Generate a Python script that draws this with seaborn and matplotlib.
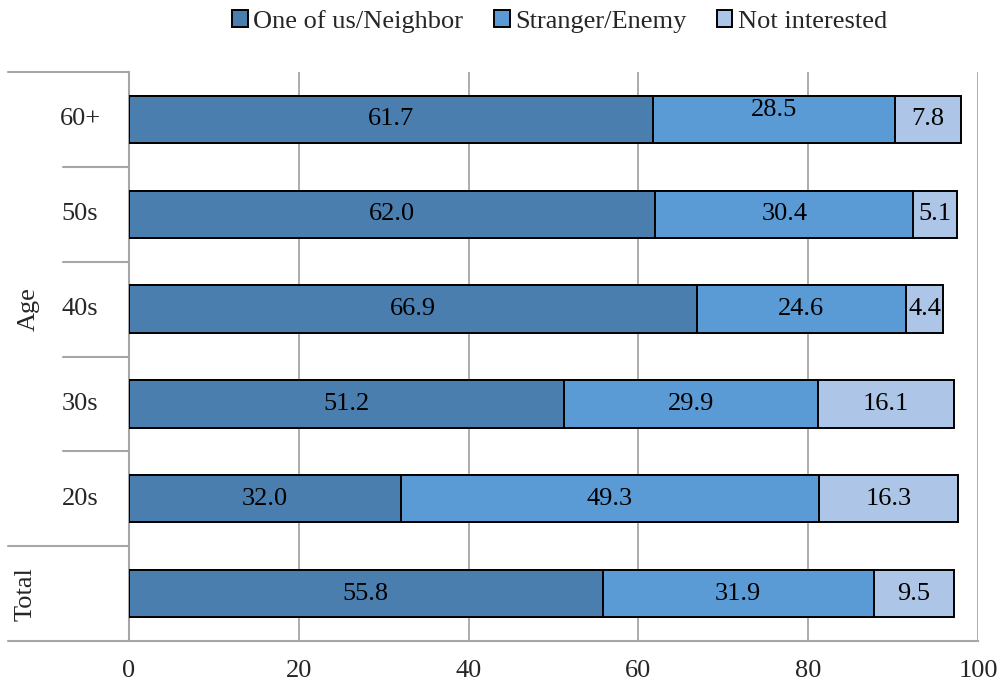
import matplotlib
matplotlib.use("Agg")
import matplotlib.pyplot as plt
import matplotlib.transforms as mtransforms
from matplotlib.patches import Patch
import numpy as np
import pandas as pd
import seaborn as sns

# Survey shares (%) by age group
groups = ["60+", "50s", "40s", "30s", "20s", "Total"]
neighbor = [61.7, 62.0, 66.9, 51.2, 32.0, 55.8]
stranger = [28.5, 30.4, 24.6, 29.9, 49.3, 31.9]
not_interested = [7.8, 5.1, 4.4, 16.1, 16.3, 9.5]
series_names = ["One of us/Neighbor", "Stranger/Enemy", "Not interested"]
x_ticks = [0, 20, 40, 60, 80, 100]

colors = ["#4A7EAF", "#5B9BD5", "#ADC5E6"]
grid_col = "#A6A6A6"

sns.set_style("white")
plt.rcParams["font.family"] = ["Liberation Serif", "DejaVu Serif"]
FS = 19

df = pd.DataFrame({
    "group": groups,
    "neighbor": neighbor,
    "stranger": stranger,
    "not_interested": not_interested,
})
df["c1"] = df["neighbor"]
df["c2"] = df["c1"] + df["stranger"]
df["c3"] = df["c2"] + df["not_interested"]

fig = plt.figure(figsize=(10.03, 6.85), dpi=100)
ax = fig.add_axes([129 / 1003, 1 - 641 / 685, (978 - 129) / 1003, (641 - 72) / 685])

# Stacked bars: draw cumulative totals back to front
for col, c in zip(["c3", "c2", "c1"], colors[::-1]):
    sns.barplot(data=df, x=col, y="group", order=groups, orient="h",
                color=c, edgecolor="black", linewidth=1.4, width=0.5,
                saturation=1, ax=ax, zorder=3)

ax.set_xlim(0, 100)
ax.set_ylim(len(groups) - 0.5, -0.5)
ax.set_xticks(x_ticks)
ax.set_xticklabels([str(t) for t in x_ticks], fontsize=FS)
ax.tick_params(axis="x", direction="out", length=6, width=1.3, color=grid_col, pad=8)
ax.set_yticks([])
ax.set_xlabel("")
ax.set_ylabel("")
ax.xaxis.grid(True, color=grid_col, linewidth=1.3, zorder=0)
ax.set_axisbelow(True)
for s in ["top", "right"]:
    ax.spines[s].set_visible(False)
for s in ["left", "bottom"]:
    ax.spines[s].set_color(grid_col)
    ax.spines[s].set_linewidth(1.5)

# Segment value labels
nudge = {(0, 1): -0.1}
for i in range(len(groups)):
    vals = [neighbor[i], stranger[i], not_interested[i]]
    left = 0.0
    for j, v in enumerate(vals):
        ax.text(left + v / 2, i + nudge.get((i, j), 0.0), f"{v:.1f}",
                ha="center", va="center", fontsize=FS, color="black", zorder=5)
        left += v

# Two-level category axis on the left
trans = mtransforms.blended_transform_factory(ax.transAxes, ax.transData)
outer_x = -121 / 849
inner_x = -66 / 849
line_kw = dict(transform=trans, color=grid_col, linewidth=1.5, clip_on=False)
ax.plot([outer_x, 0], [-0.5, -0.5], **line_kw)
for b in [0.5, 1.5, 2.5, 3.5]:
    ax.plot([inner_x, 0], [b, b], **line_kw)
ax.plot([outer_x, 0], [4.5, 4.5], **line_kw)
ax.plot([outer_x, 0], [5.5, 5.5], **line_kw)

label_x = -49 / 849
for i, g in enumerate(groups[:5]):
    ax.text(label_x, i, g, transform=trans, ha="center", va="center", fontsize=FS)
ax.text(-100 / 849, 2, "Age", transform=trans, ha="center", va="center",
        rotation=90, fontsize=FS)
ax.text(-103 / 849, 5, "Total", transform=trans, ha="center", va="center",
        rotation=90, fontsize=FS)

# Legend
handles = [Patch(facecolor=c, edgecolor="black", linewidth=1.4) for c in colors]
fig.legend(handles, series_names, loc="upper center", bbox_to_anchor=(0.558, 1.02),
           ncol=3, frameon=False, fontsize=FS, handlelength=0.6, handleheight=0.6,
           handletextpad=0.2, columnspacing=1.15)

fig.savefig("out.png", dpi=100)
